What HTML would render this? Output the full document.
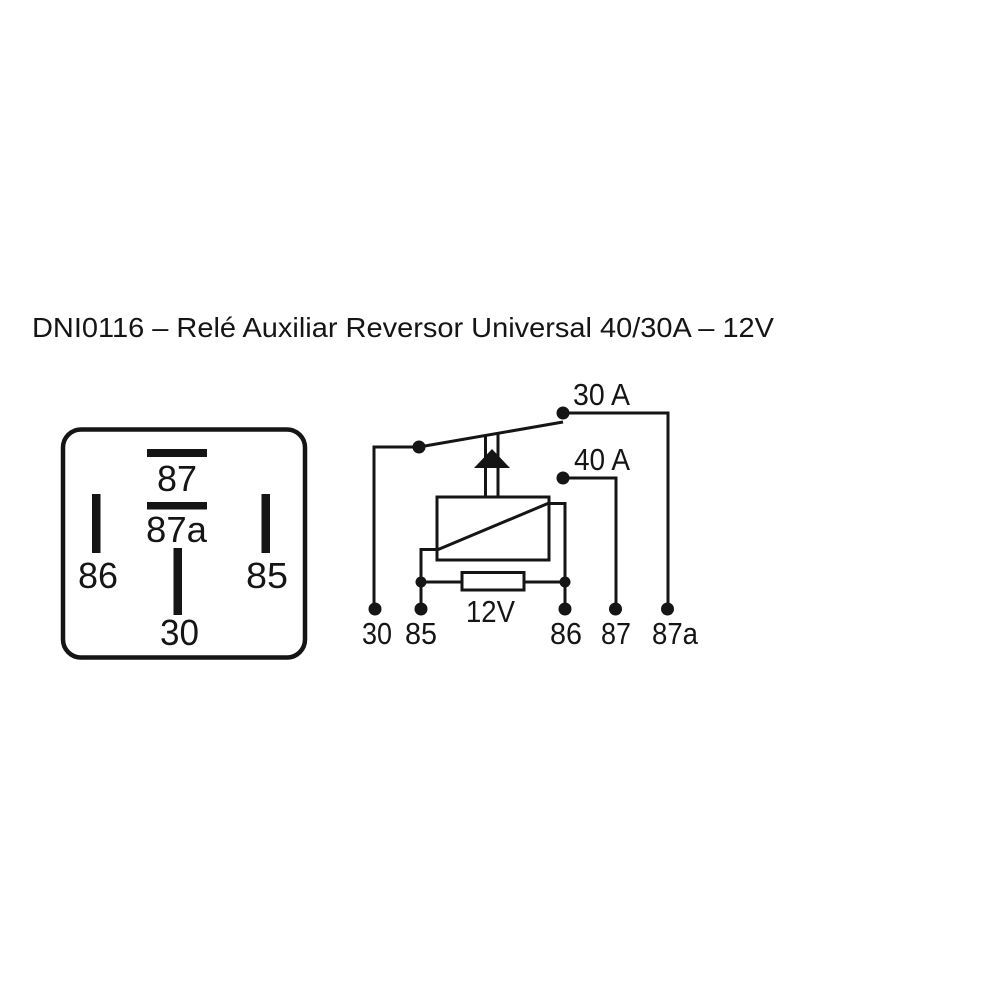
<!DOCTYPE html>
<html>
<head>
<meta charset="utf-8">
<style>
  html, body { margin:0; padding:0; background:#fff; }
  body { width:1000px; height:1000px; overflow:hidden; }
  svg { display:block; }
  text { font-family: "Liberation Sans", Arial, sans-serif; fill:#151515; }
</style>
</head>
<body>
<svg width="1000" height="1000" viewBox="0 0 1000 1000" xmlns="http://www.w3.org/2000/svg">
  <rect x="0" y="0" width="1000" height="1000" fill="#ffffff"/>

  <!-- Title -->
  <text x="32" y="337" font-size="28" textLength="742" lengthAdjust="spacingAndGlyphs">DNI0116 – Relé Auxiliar Reversor Universal 40/30A – 12V</text>

  <!-- Left pin-out box -->
  <rect x="63" y="429.5" width="242" height="228" rx="18" ry="18" fill="none" stroke="#151515" stroke-width="4.5"/>
  <rect x="147" y="449" width="60" height="8" fill="#151515"/>
  <rect x="147" y="502" width="60" height="7.5" fill="#151515"/>
  <rect x="92" y="494" width="8.5" height="59" fill="#151515"/>
  <rect x="261.5" y="494" width="8.5" height="59" fill="#151515"/>
  <rect x="173.5" y="548" width="8.5" height="67" fill="#151515"/>

  <text x="157" y="491" font-size="36" textLength="40" lengthAdjust="spacingAndGlyphs">87</text>
  <text x="146" y="542" font-size="36" textLength="61" lengthAdjust="spacingAndGlyphs">87a</text>
  <text x="78" y="588" font-size="36" textLength="40" lengthAdjust="spacingAndGlyphs">86</text>
  <text x="246" y="588" font-size="36" textLength="42" lengthAdjust="spacingAndGlyphs">85</text>
  <text x="160" y="645" font-size="36" textLength="39" lengthAdjust="spacingAndGlyphs">30</text>

  <!-- Schematic -->
  <g fill="none" stroke="#151515" stroke-width="3" stroke-linejoin="miter" stroke-linecap="butt">
    <polyline points="563,413 668,413 668,609"/>
    <line x1="419" y1="447" x2="563" y2="422"/>
    <polyline points="419,447 374,447 374,609"/>
    <polyline points="563,478 616,478 616,609"/>
    <line x1="485.5" y1="435.5" x2="485.5" y2="497"/>
    <line x1="498" y1="433.5" x2="498" y2="497"/>
    <rect x="437" y="497" width="112" height="63"/>
    <line x1="437" y1="550" x2="549" y2="503"/>
    <polyline points="549,503.5 565,503.5 565,609"/>
    <polyline points="437,549.5 421,549.5 421,609"/>
    <line x1="421" y1="582" x2="462" y2="582"/>
    <line x1="524" y1="582" x2="565" y2="582"/>
    <rect x="462" y="572.5" width="62" height="17.5"/>
  </g>

  <!-- arrow head -->
  <polygon points="492,449 474,468 510,468" fill="#151515"/>

  <!-- dots -->
  <g fill="#151515">
    <circle cx="563" cy="413" r="6.5"/>
    <circle cx="419" cy="447" r="6.5"/>
    <circle cx="563" cy="478" r="6.5"/>
    <circle cx="421" cy="582" r="5.5"/>
    <circle cx="565" cy="582" r="5.5"/>
    <circle cx="375" cy="609" r="6.5"/>
    <circle cx="421" cy="609" r="6.5"/>
    <circle cx="565" cy="609" r="6.5"/>
    <circle cx="615.5" cy="609" r="6.5"/>
    <circle cx="667.5" cy="609" r="6.5"/>
  </g>

  <!-- schematic labels -->
  <text x="573" y="405" font-size="30.5" textLength="57" lengthAdjust="spacingAndGlyphs">30 A</text>
  <text x="574" y="470" font-size="30.5" textLength="56" lengthAdjust="spacingAndGlyphs">40 A</text>
  <text x="466" y="622" font-size="30.5" textLength="49" lengthAdjust="spacingAndGlyphs">12V</text>
  <text x="362" y="644" font-size="30.5" textLength="30" lengthAdjust="spacingAndGlyphs">30</text>
  <text x="405" y="644" font-size="30.5" textLength="32" lengthAdjust="spacingAndGlyphs">85</text>
  <text x="550" y="644" font-size="30.5" textLength="32" lengthAdjust="spacingAndGlyphs">86</text>
  <text x="601" y="644" font-size="30.5" textLength="30" lengthAdjust="spacingAndGlyphs">87</text>
  <text x="652" y="644" font-size="30.5" textLength="46" lengthAdjust="spacingAndGlyphs">87a</text>
</svg>
</body>
</html>
